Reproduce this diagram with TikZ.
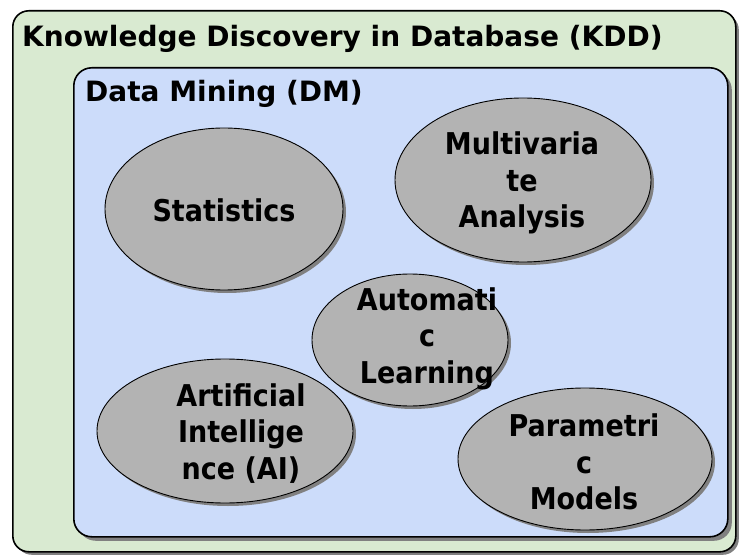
\documentclass[tikz,border=0pt]{standalone}
\usepackage{fontspec}
\setmainfont{DejaVu Sans Condensed}
\newfontfamily\titlefont{DejaVu Sans}
\usetikzlibrary{shapes.geometric,shadows}
\definecolor{kddgreen}{HTML}{D9EAD1}
\definecolor{dmblue}{HTML}{CCDCFA}
\definecolor{ellgray}{HTML}{B3B3B3}
\definecolor{shadowgray}{HTML}{808080}
\tikzset{
  outerbox/.style={draw=black,line width=1.6pt,fill=kddgreen,rounded corners=16pt,
    drop shadow={shadow xshift=3pt,shadow yshift=-3pt,opacity=1,fill=shadowgray}},
  innerbox/.style={draw=black,line width=1.6pt,fill=dmblue,rounded corners=18pt,
    drop shadow={shadow xshift=4pt,shadow yshift=-4pt,opacity=1,fill=shadowgray}},
  topic/.style={ellipse,draw=black,line width=0.9pt,fill=ellgray,inner sep=0pt,
    drop shadow={shadow xshift=3pt,shadow yshift=-3pt,opacity=1,fill=shadowgray}},
  topictext/.style={align=center,font=\bfseries\fontsize{30}{36.5}\selectfont,inner sep=0pt},
  boxtitle/.style={anchor=base west,inner sep=0pt,font=\titlefont\bfseries\fontsize{28}{32}\selectfont}
}
\begin{document}
\begin{tikzpicture}[x=1pt,y=-1pt]
\useasboundingbox (0,0) rectangle (739,556);
\node[outerbox,minimum width=723pt,minimum height=541pt,anchor=north west] (kdd) at (12,10) {};
\node[boxtitle] (kddt) at (22,47) {Knowledge Discovery in Database (KDD)};
\node[innerbox,minimum width=654pt,minimum height=469pt,anchor=north west] (dm) at (73,67) {};
\node[boxtitle] (dmt) at (85,102) {Data Mining (DM)};
% ellipses
\node[topic,minimum width=238pt,minimum height=162pt] (stat) at (224,209) {};
\node[topic,minimum width=256pt,minimum height=164pt] (mva) at (523,180) {};
\node[topic,minimum width=196pt,minimum height=132pt] (al) at (410,340) {};
\node[topic,minimum width=256pt,minimum height=144pt] (ai) at (225,431) {};
\node[topic,minimum width=254pt,minimum height=142pt] (pm) at (585,459) {};
% texts
\node[topictext,anchor=base] (statt) at (224,222) {Statistics};
\node[topictext] (mvat) at (522,183) {Multivaria\\te\\Analysis};
\node[topictext] (alt) at (427,338.5) {Automati\\c\\Learning};
\node[topictext] (ait) at (241,433.5) {Artificial\\Intellige\\nce (AI)};
\node[topictext] (pmt) at (584,462) {Parametri\\c\\Models};
\end{tikzpicture}
\end{document}
